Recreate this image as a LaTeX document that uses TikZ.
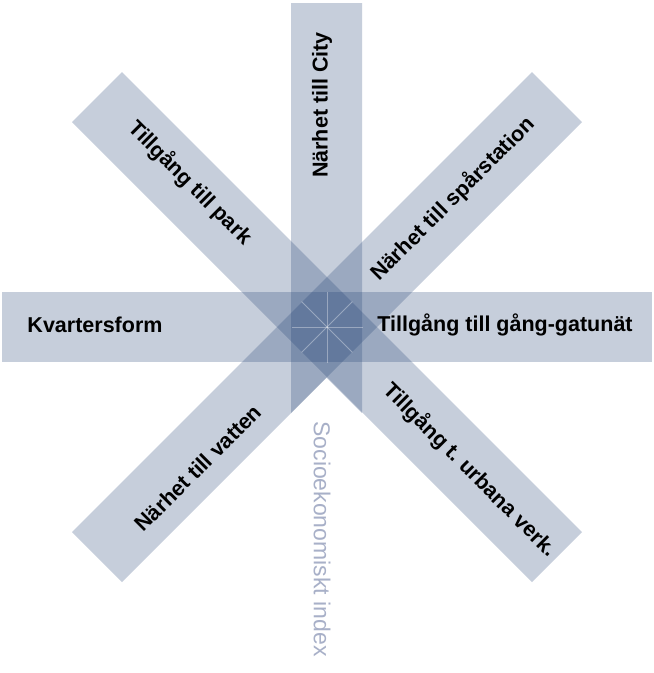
\documentclass[tikz,border=0pt]{standalone}
\usepackage{fontspec}
\setmainfont{Liberation Sans}
\definecolor{barblue}{RGB}{30,62,115}
\definecolor{sociocol}{RGB}{168,176,200}
\begin{document}
\frenchspacing
\begin{tikzpicture}[x=1pt,y=-1pt,
  bar/.style={fill=barblue, fill opacity=0.25},
  spoke/.style={draw=white, draw opacity=0.35, line width=0.8pt},
  lbl/.style={font=\frenchspacing\bfseries\fontsize{21.5}{25}\selectfont, text=black, inner sep=0pt},
  socio/.style={font=\fontsize{23}{27}\selectfont, text=sociocol, inner sep=0pt}]
\useasboundingbox (0,0) rectangle (654,673);
\fill[white] (0,0) rectangle (654,673);
% bars
\fill[bar] (291,3) -- (362,3) -- (362,413) -- (326.5,377.5) -- (291,413) -- cycle;
\fill[bar] (2,292) rectangle (652,362);
\fill[bar] (122,72) -- (582,532) -- (532,582) -- (72,122) -- cycle;
\fill[bar] (532,72) -- (582,122) -- (122,582) -- (72,532) -- cycle;
% spokes
\coordinate (c) at (327,327);
\foreach \a/\r in {0/35.5,45/36,90/35.5,135/36,180/35.5,225/36,270/35.5,315/36}
  \draw[spoke] (c) -- ++(\a:\r);
% labels
\node[lbl, rotate=90] (city) at (322,105) {Närhet till City};
\node[lbl, rotate=-45] (park) at (190,183) {Tillgång till park};
\node[lbl, rotate=45] (spar) at (453,199) {Närhet till spårstation};
\node[lbl] (kv) at (95,325) {Kvartersform};
\node[lbl] (gang) at (505,325) {Tillgång till gång-gatunät};
\node[lbl, rotate=45] (vatten) at (198,468) {Närhet till vatten};
\node[lbl, rotate=-45] (urb) at (470,470) {Tillgång t.\ urbana verk.};
\node[socio, rotate=-90] (socio) at (322,539) {Socioekonomiskt index};
\end{tikzpicture}
\end{document}
